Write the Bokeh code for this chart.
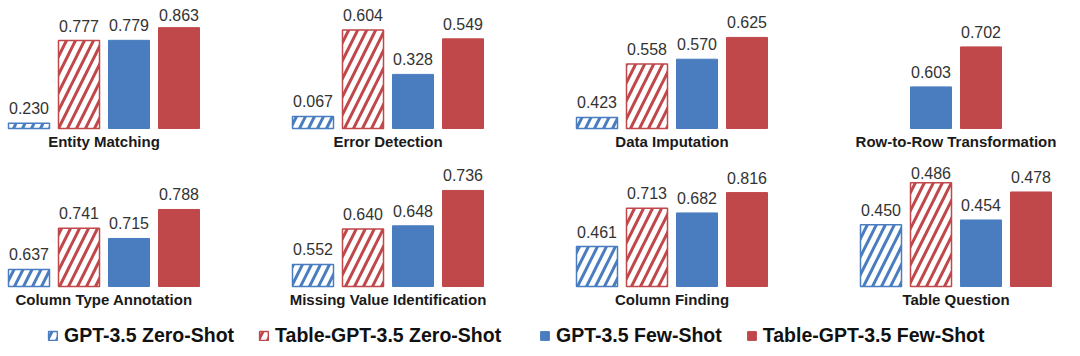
from bokeh.plotting import figure
from bokeh.models import ColumnDataSource, Range1d, Legend, LegendItem
from bokeh.layouts import column, row
from bokeh.core.properties import value
from bokeh.embed import file_html
from bokeh.resources import INLINE

# ---------------- data ----------------
tasks = ["Entity Matching", "Error Detection", "Data Imputation", "Row-to-Row Transformation",
         "Column Type Annotation", "Missing Value Identification", "Column Finding", "Table Question"]
series = ["GPT-3.5 Zero-Shot", "Table-GPT-3.5 Zero-Shot", "GPT-3.5 Few-Shot", "Table-GPT-3.5 Few-Shot"]
gpt35_zero_shot = [0.230, 0.067, 0.423, None, 0.637, 0.552, 0.461, 0.450]
table_gpt35_zero_shot = [0.777, 0.604, 0.558, None, 0.741, 0.640, 0.713, 0.486]
gpt35_few_shot = [0.779, 0.328, 0.570, 0.603, 0.715, 0.648, 0.682, 0.454]
table_gpt35_few_shot = [0.863, 0.549, 0.625, 0.702, 0.788, 0.736, 0.816, 0.478]
values_by_series = [gpt35_zero_shot, table_gpt35_zero_shot, gpt35_few_shot, table_gpt35_few_shot]

# per-panel axis (value axis floor and pixel scale, as in the original's auto axes)
axis_floor = [0.195, -0.008, 0.395, 0.5, 0.594, 0.497, 0.198, 0.397]
px_per_unit = [151, 161, 396, 404, 397, 402, 152, 1167]

# ---------------- style ----------------
BLUE = "#4a7dbf"
RED = "#c0474a"
series_color = [BLUE, RED, BLUE, RED]
series_hatched = [True, True, False, False]
FONT = "Liberation Sans"
PANEL_W = 268
ROW_H = [160, 158]
BASE_PX = [128, 126]      # baseline position inside each row's figure
TITLE_OFF = [13, 13]
LABEL_TOP_MIN = [9, 7]
LABEL_SHIFT = -6
LEFT_PAD = 8
BAR_PX = 50          # pixels per category slot
PANEL_PITCH = 284    # pixel pitch of panels in the original
BAR_W = 0.82


def bar_style(j):
    c = series_color[j]
    if series_hatched[j]:
        return dict(fill_color="white", line_color=c, line_width=1.5,
                    hatch_pattern="/", hatch_color=c, hatch_scale=18, hatch_weight=3)
    return dict(fill_color=c, line_color=c, line_width=1)


def make_panel(i):
    col = i % 4
    rowi = i // 4
    H = ROW_H[rowi]
    base_px = BASE_PX[rowi]
    floor = axis_floor[i]
    s = px_per_unit[i]
    y_start = floor - (H - base_px) / s
    y_end = floor + base_px / s
    xs = [j for j in range(4) if values_by_series[j][i] is not None]
    shift = xs[0] - (4 - len(xs)) / 2
    left_px = LEFT_PAD + col * (PANEL_PITCH - PANEL_W)
    x_start = -BAR_W / 2 - left_px / BAR_PX + shift
    x_end = x_start + PANEL_W / BAR_PX

    p = figure(width=PANEL_W, height=H, output_backend="svg", toolbar_location=None,
               x_range=Range1d(x_start, x_end), y_range=Range1d(y_start, y_end),
               x_axis_location=None, y_axis_location=None, min_border=0,
               outline_line_color=None, background_fill_color="white", border_fill_color="white")
    p.grid.visible = False

    for j in xs:
        v = values_by_series[j][i]
        src = ColumnDataSource(dict(x=[j], top=[v]))
        p.vbar(x="x", top="top", bottom=floor, width=BAR_W, source=src, **bar_style(j))

    lx, ly, lt, lo = [], [], [], []
    for j in xs:
        v = values_by_series[j][i]
        bar_top_px = base_px - (v - floor) * s
        text_bottom = max(bar_top_px - 9, LABEL_TOP_MIN[rowi] + 11.5)
        lx.append(j)
        ly.append(v)
        lt.append(f"{v:.3f}")
        lo.append(-(bar_top_px - text_bottom) + LABEL_SHIFT)
    p.text(x="x", y="y", text="t", y_offset="o",
           source=ColumnDataSource(dict(x=lx, y=ly, t=lt, o=lo)),
           text_align="center", text_baseline="alphabetic",
           text_font=value(FONT), text_font_size="16px", text_color="#333333")

    p.text(x=[sum(xs) / len(xs)], y=[floor], text=[tasks[i]], y_offset=TITLE_OFF[rowi],
           text_align="center", text_baseline="alphabetic",
           text_font=value(FONT), text_font_size="15px", text_font_style="bold",
           text_color="#1a1a1a")
    return p


panels = [make_panel(i) for i in range(8)]

# legend strip
lp = figure(width=PANEL_W * 4, height=32, output_backend="svg", toolbar_location=None,
            x_range=Range1d(0, 1), y_range=Range1d(0, 1),
            x_axis_location=None, y_axis_location=None, min_border=0,
            outline_line_color=None, background_fill_color="white", border_fill_color="white")
lp.grid.visible = False
rends = []
for j in range(4):
    r = lp.vbar(x="x", top="top", width=BAR_W,
                source=ColumnDataSource(dict(x=[0], top=[0])), **bar_style(j))
    r.visible = False
    rends.append(r)

legend_common = dict(orientation="horizontal", padding=0, margin=0, spacing=24,
                     glyph_width=11, glyph_height=11, label_standoff=6,
                     label_text_font=FONT, label_text_font_size="19.5px",
                     label_text_font_style="bold", label_text_color="#111111",
                     border_line_color=None, background_fill_alpha=0,
                     inactive_fill_alpha=0, click_policy="none")
legA = Legend(items=[LegendItem(label=series[0], renderers=[rends[0]]),
                     LegendItem(label=series[1], renderers=[rends[1]])],
              location=(47, 3), **legend_common)
legB = Legend(items=[LegendItem(label=series[2], renderers=[rends[2]]),
                     LegendItem(label=series[3], renderers=[rends[3]])],
              location=(539, 3), **legend_common)
lp.add_layout(legA)
lp.add_layout(legB)

layout = column(row(*panels[:4]), row(*panels[4:]), lp)
open("out.html", "w").write(file_html(layout, INLINE))
